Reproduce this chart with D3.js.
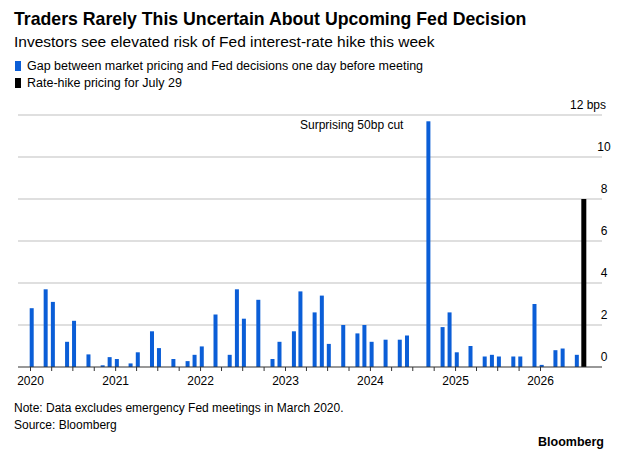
<!DOCTYPE html><html><head><meta charset="utf-8">
<script src="https://cdn.jsdelivr.net/npm/d3@7"></script>
<style>body{margin:0;background:#fff;font-family:"Liberation Sans",Arial,sans-serif}</style></head><body>
<svg id="c" width="640" height="462"></svg>
<script>
const months = ["2020-01","2020-03","2020-04","2020-06","2020-07","2020-09","2020-11","2020-12",
"2021-01","2021-03","2021-04","2021-06","2021-07","2021-09","2021-11","2021-12",
"2022-01","2022-03","2022-05","2022-06","2022-07","2022-09","2022-11","2022-12",
"2023-02","2023-03","2023-05","2023-06","2023-07","2023-09","2023-11","2023-12",
"2024-01","2024-03","2024-05","2024-06","2024-07","2024-09","2024-11","2024-12",
"2025-01","2025-03","2025-05","2025-06","2025-07","2025-09","2025-10","2025-12",
"2026-01","2026-03","2026-04","2026-06"];
const gaps = [2.8,3.7,3.1,1.2,2.2,0.6,0.08,0.47,
0.38,0.17,0.7,1.7,0.9,0.38,0.28,0.58,
0.98,2.5,0.58,3.7,2.3,3.2,0.38,1.2,
1.7,3.6,2.6,3.4,1.1,2.0,1.6,2.0,
1.2,1.3,1.3,1.5,0,11.7,1.9,2.6,
0.7,1.0,0.5,0.58,0.5,0.5,0.5,3.0,
0.1,0.8,0.88,0.58];
const hikeMonth = "2026-07", hikeValue = 8;
const yTicks = [0,2,4,6,8,10,12];
const years = [2020,2021,2022,2023,2024,2025,2026];

const svg = d3.select("#c");
const p = d3.timeParse("%Y-%m");
const x = d3.scaleTime().domain([new Date(2020,0,1), new Date(2026,0,1)]).range([30,540]);
const y = d3.scaleLinear().domain([0,12]).range([367,115]);

svg.append("text").attr("x",14).attr("y",25).attr("font-size",17.7).attr("font-weight","bold").text("Traders Rarely This Uncertain About Upcoming Fed Decision");
svg.append("text").attr("x",14).attr("y",47).attr("font-size",15.5).text("Investors see elevated risk of Fed interest-rate hike this week");
const leg=[["#0b5ed7","Gap between market pricing and Fed decisions one day before meeting"],["#000","Rate-hike pricing for July 29"]];
leg.forEach((d,i)=>{svg.append("rect").attr("x",15).attr("y",61+i*17).attr("width",6).attr("height",10).attr("fill",d[0]);
svg.append("text").attr("x",27).attr("y",70+i*17).attr("font-size",12.5).text(d[1]);});

const g=svg.append("g");
yTicks.forEach(t=>{
  if(t>0) g.append("line").attr("x1",18).attr("x2",602).attr("y1",y(t)).attr("y2",y(t)).attr("stroke","#d4d4d4").attr("stroke-width",1.5);
  g.append("text").attr("x",t===12?606:604).attr("y",y(t)-6).attr("text-anchor",t===12?"end":"middle").attr("font-size",12).text(t===12?"12 bps":t);
});
const bw=4;
g.selectAll(".b").data(months).join("rect").attr("x",d=>x(p(d))+1.7-bw/2).attr("width",bw)
 .attr("y",(d,i)=>y(gaps[i])).attr("height",(d,i)=>y(0)-y(gaps[i])).attr("fill","#0b5ed7");
g.append("rect").attr("x",x(p(hikeMonth))+1.7-2.5).attr("width",5).attr("y",y(hikeValue)).attr("height",y(0)-y(hikeValue)).attr("fill","#000");
g.append("line").attr("x1",18).attr("x2",602).attr("y1",y(0)).attr("y2",y(0)).attr("stroke","#333").attr("stroke-width",1.2);
const ax=d3.axisBottom(x).ticks(d3.timeMonth.every(3)).tickSize(4).tickFormat(d=>d.getMonth()===0?d.getFullYear():"");
const axg=g.append("g").attr("transform",`translate(0,${y(0)})`).call(ax);
axg.select(".domain").remove();
axg.selectAll("line").attr("stroke","#333");
axg.selectAll("text").attr("font-size",12).attr("fill","#000").attr("font-family","Liberation Sans, Arial, sans-serif").attr("dy","0.9em");
svg.append("text").attr("x",300).attr("y",129).attr("font-size",12).text("Surprising 50bp cut");
svg.append("text").attr("x",14).attr("y",412).attr("font-size",12).text("Note: Data excludes emergency Fed meetings in March 2020.");
svg.append("text").attr("x",14).attr("y",429).attr("font-size",12).text("Source: Bloomberg");
svg.append("text").attr("x",604).attr("y",446).attr("font-size",12.5).attr("font-weight","bold").attr("text-anchor","end").text("Bloomberg");
</script></body></html>
